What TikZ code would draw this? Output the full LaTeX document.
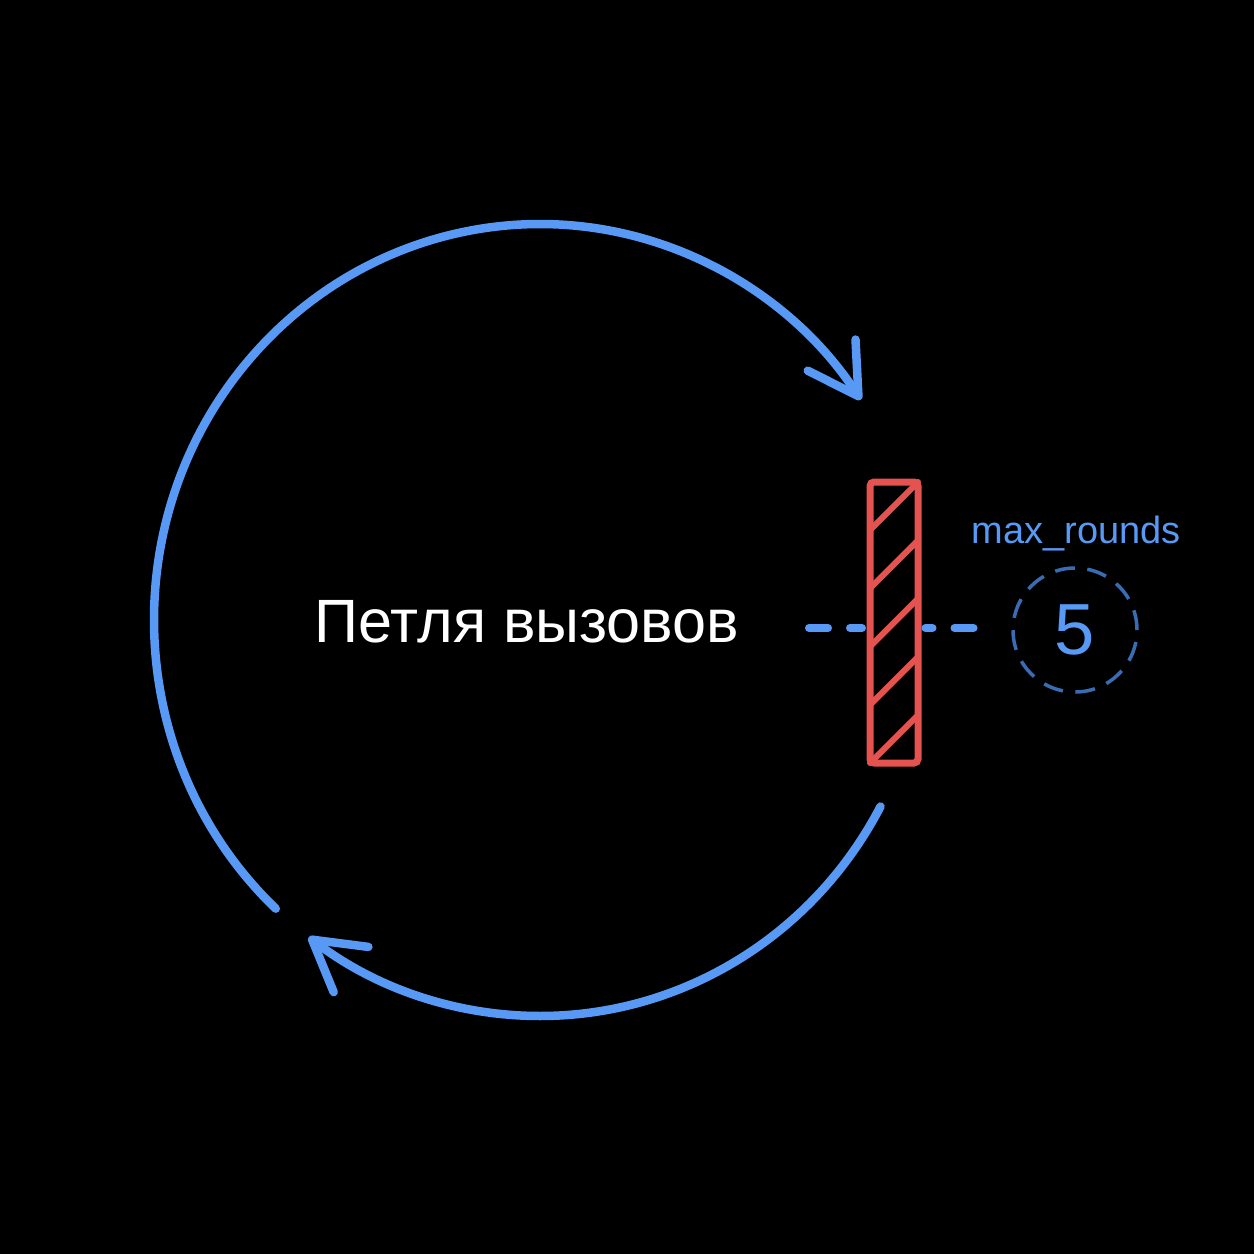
\documentclass[tikz,border=0pt]{standalone}
\usepackage{fontspec}
\newfontfamily\uifont{Liberation Sans}
\usetikzlibrary{arrows.meta}
\definecolor{loopblue}{RGB}{88,153,245}
\definecolor{ringblue}{RGB}{58,108,180}
\definecolor{stopred}{RGB}{229,83,80}
\begin{document}
\begin{tikzpicture}[x=0.1mm,y=-0.1mm,
  loop/.style={loopblue,line width=0.85mm,line cap=round,
    -{Straight Barb[round,length=4.9mm,width=5.7mm]}},
  link/.style={loopblue,line width=0.8mm,line cap=round,dash pattern=on 1.9mm off 2.2mm},
  hatch/.style={stopred,line width=0.6mm,line cap=round}]
\fill[black] (0,0) rectangle (1254,1254);

\coordinate (hub) at (540,620);
\draw[loop] (hub) ++(133.2:386 and 396) arc[start angle=133.2,end angle=326.2,x radius=386,y radius=396];
\draw[loop] (hub) ++(28.1:386 and 396) arc[start angle=28.1,end angle=126.8,x radius=386,y radius=396];

\node[anchor=base,text=white,font=\uifont\fontsize{17.4pt}{20pt}\selectfont] (title) at (527,642) {Петля вызовов};

\node[draw=stopred,fill=black,line width=0.7mm,rounded corners=0.4mm,
  minimum width=4.8mm,minimum height=28.1mm,inner sep=0] (stop) at (894,622.5) {};
\foreach \y in {530,588.25,646.5,704.75,763}
  \draw[hatch] (870,\y) -- ++(48,-48);

\node[circle,draw=ringblue,line width=0.35mm,dash pattern=on 2mm off 1.25mm,
  minimum size=12.4mm,inner sep=0,text=loopblue,
  font=\uifont\fontsize{20.6pt}{24pt}\selectfont] (ring) at (1075,630) {5};
\node[anchor=base,text=loopblue,font=\uifont\fontsize{10.8pt}{13pt}\selectfont] (cap) at (1076,543) {max\_rounds};

\coordinate (tap) at (809,628);
\draw[link,shorten >=0.45mm] (tap) -- (stop.west |- tap);
\draw[link,dash phase=1.2mm,shorten <=0.4mm,shorten >=2.5mm] (stop.east |- tap) -- (ring.west |- tap);
\end{tikzpicture}
\end{document}
